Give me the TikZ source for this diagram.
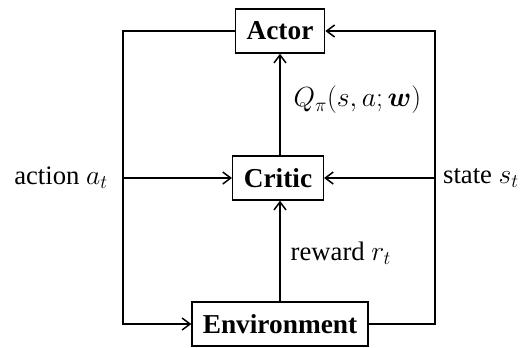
\documentclass[tikz,border=0pt]{standalone}
\usepackage{fontspec}
\usepackage{amsmath}
\setmainfont{Liberation Serif}
\usetikzlibrary{arrows.meta}
\begin{document}
\begin{tikzpicture}[
  x=0.75pt, y=-0.75pt,
  >={Straight Barb[length=6pt,width=9pt]},
  every node/.style = {font=\fontsize{20}{24}\selectfont},
  block/.style = {shape=rectangle, draw, line width=1.1pt,
    font=\fontsize{20.5}{24}\selectfont\bfseries, minimum height=33pt, inner sep=0pt},
  link/.style = {line width=1.1pt}
  ]
  \useasboundingbox (0,0) rectangle (527,347);
  \node[block, minimum width=67pt] (actor) at (280,31) {Actor};
  \node[block, minimum width=68pt] (critic) at (278,178) {Critic};
  \node[block, minimum width=132pt] (env) at (280,324) {Environment};
  \coordinate (lt) at (123,31);
  \coordinate (lb) at (123,324);
  \coordinate (rt) at (435,31);
  \coordinate (rb) at (435,324);
  \coordinate (lm) at (123,178);
  \coordinate (rm) at (435,178);
  \node (action) at (61,178) {action $a_t$};
  \node (state) at (481,178) {state $s_t$};
  \node[anchor=west] (qval) at (289,100) {$Q_\pi(s,a;\boldsymbol{w})$};
  \node[anchor=west] (reward) at (286,253) {reward $r_t$};
  \draw[link, ->] (actor.west) -- (lt) -- (lb) -- (env.west);
  \draw[link, ->] (env.east) -- (rb) -- (rt) -- (actor.east);
  \draw[link, ->] (lm) -- (critic.west);
  \draw[link, ->] (rm) -- (critic.east);
  \draw[link, ->] (critic.north -| actor.south) -- (actor.south);
  \draw[link, ->] (env.north -| actor.south) -- (critic.south -| actor.south);
\end{tikzpicture}
\end{document}
